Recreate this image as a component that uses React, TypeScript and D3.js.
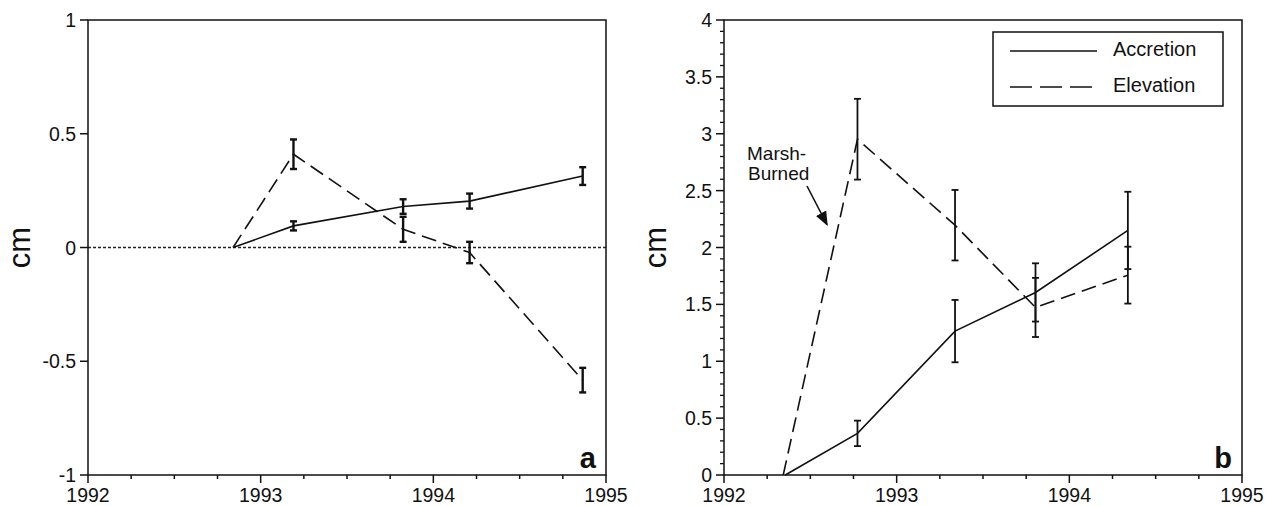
import React from "react";
import * as d3 from "d3";

// ---- Data ----
const leftYears = [1992.84, 1993.19, 1993.825, 1994.21, 1994.865];
const leftAccretion = [0, 0.095, 0.18, 0.204, 0.314];
const leftAccretionErr = [0, 0.02, 0.032, 0.033, 0.039];
const leftElevation = [0, 0.41, 0.08, -0.022, -0.583];
const leftElevationErr = [0, 0.065, 0.055, 0.047, 0.054];

const rightAccYears = [1992.355, 1992.773, 1993.338, 1993.804, 1994.339];
const rightAccretion = [0, 0.366, 1.265, 1.605, 2.15];
const rightAccretionErr = [0, 0.112, 0.274, 0.256, 0.34];
const rightElevYears = [1992.343, 1992.773, 1993.338, 1993.804, 1994.339];
const rightElevation = [0, 2.952, 2.196, 1.473, 1.757];
const rightElevationErr = [0, 0.355, 0.31, 0.26, 0.25];

const xTicks = [1992, 1993, 1994, 1995];
const leftYTicks = [-1, -0.5, 0, 0.5, 1];
const leftYLabels = ["-1", "-0.5", "0", "0.5", "1"];
const rightYTicks = [0, 0.5, 1, 1.5, 2, 2.5, 3, 3.5, 4];
const rightYLabels = ["0", "0.5", "1", "1.5", "2", "2.5", "3", "3.5", "4"];
const legendLabels = ["Accretion", "Elevation"];
const annotationLines = ["Marsh-", "Burned"];

const FONT = "'Liberation Sans', Arial, Helvetica, sans-serif";
const DASH = "15,7";

type PanelProps = {
  left: number;
  right: number;
  top: number;
  bottom: number;
  yDomain: [number, number];
  yTicks: number[];
  yLabels: string[];
  yMinorStep: number | null;
  series: { xs: number[]; ys: number[]; errs: number[]; dashed: boolean }[];
  errWidth: number;
  panelLabel: string;
  zeroLine: boolean;
  children?: (x: d3.ScaleLinear<number, number>, y: d3.ScaleLinear<number, number>) => React.ReactNode;
};

function Panel(p: PanelProps) {
  const x = d3.scaleLinear().domain([1992, 1995]).range([p.left, p.right]);
  const y = d3.scaleLinear().domain(p.yDomain).range([p.bottom, p.top]);
  const minorX = d3.range(1992, 1995.001, 0.25).filter((v) => !xTicks.some((t) => Math.abs(t - v) < 1e-6));
  const minorY: number[] = [];
  if (p.yMinorStep) {
    const n = Math.round((p.yDomain[1] - p.yDomain[0]) / p.yMinorStep);
    for (let i = 0; i <= n; i++) {
      const v = p.yDomain[0] + i * p.yMinorStep;
      if (!p.yTicks.some((t) => Math.abs(t - v) < 1e-6)) minorY.push(v);
    }
  }
  const line = d3
    .line<[number, number]>()
    .x((d) => x(d[0]))
    .y((d) => y(d[1]));
  return (
    <g>
      {p.zeroLine && (
        <line x1={p.left} x2={p.right} y1={y(0)} y2={y(0)} stroke="#222" strokeWidth={1.4} strokeDasharray="3,2" />
      )}
      {/* frame */}
      <rect x={p.left} y={p.top} width={p.right - p.left} height={p.bottom - p.top} fill="none" stroke="#111" strokeWidth={1.5} />
      {/* x ticks */}
      {xTicks.map((t) => (
        <g key={"xt" + t}>
          <line x1={x(t)} x2={x(t)} y1={p.bottom} y2={p.bottom + 8} stroke="#111" strokeWidth={1.5} />
          <text x={x(t)} y={p.bottom + 27} textAnchor="middle" fontFamily={FONT} fontSize={19.5} fill="#111">
            {t}
          </text>
        </g>
      ))}
      {minorX.map((t) => (
        <line key={"xm" + t} x1={x(t)} x2={x(t)} y1={p.bottom} y2={p.bottom + 4} stroke="#111" strokeWidth={1.5} />
      ))}
      {/* y ticks */}
      {p.yTicks.map((t, i) => (
        <g key={"yt" + t}>
          <line x1={p.left - 8} x2={p.left} y1={y(t)} y2={y(t)} stroke="#111" strokeWidth={1.5} />
          <text x={p.left - 12} y={y(t) + 7} textAnchor="end" fontFamily={FONT} fontSize={19.5} fill="#111">
            {p.yLabels[i]}
          </text>
        </g>
      ))}
      {minorY.map((t) => (
        <line key={"ym" + t} x1={p.left - 4} x2={p.left} y1={y(t)} y2={y(t)} stroke="#111" strokeWidth={1.3} />
      ))}
      {/* y axis title */}
      <text
        transform={`translate(${p.left - 58},${(p.top + p.bottom) / 2}) rotate(-90)`}
        textAnchor="middle"
        fontFamily={FONT}
        fontSize={31}
        fill="#111"
      >
        cm
      </text>
      {/* series */}
      {p.series.map((s, si) => {
        const pts: [number, number][] = s.xs.map((xv, i) => [xv, s.ys[i]]);
        return (
          <g key={"s" + si}>
            <path
              d={line(pts) || ""}
              fill="none"
              stroke="#111"
              strokeWidth={1.6}
              strokeDasharray={s.dashed ? DASH : undefined}
            />
            {pts.map((d, i) =>
              s.errs[i] > 0 ? (
                <g key={"e" + i}>
                  <line x1={x(d[0])} x2={x(d[0])} y1={y(d[1] - s.errs[i])} y2={y(d[1] + s.errs[i])} stroke="#111" strokeWidth={p.errWidth} />
                  <line x1={x(d[0]) - 3.5} x2={x(d[0]) + 3.5} y1={y(d[1] - s.errs[i])} y2={y(d[1] - s.errs[i])} stroke="#111" strokeWidth={p.errWidth} />
                  <line x1={x(d[0]) - 3.5} x2={x(d[0]) + 3.5} y1={y(d[1] + s.errs[i])} y2={y(d[1] + s.errs[i])} stroke="#111" strokeWidth={p.errWidth} />
                </g>
              ) : null
            )}
          </g>
        );
      })}
      <text x={p.right - 10} y={p.bottom - 7} textAnchor="end" fontFamily={FONT} fontSize={29} fontWeight="bold" fill="#111">
        {p.panelLabel}
      </text>
      {p.children && p.children(x, y)}
    </g>
  );
}

export default function App() {
  const top = 20;
  const bottom = 475;
  return (
    <svg width={1271} height={506} style={{ position: "absolute", left: 0, top: 0, background: "#fff" }}>
      <rect x={0} y={0} width={1271} height={506} fill="#fff" />
      <defs>
        <marker id="arrowhead" viewBox="0 0 10 10" refX={9} refY={5} markerWidth={9} markerHeight={9} orient="auto">
          <path d="M0,1 L10,5 L0,9 z" fill="#111" />
        </marker>
      </defs>
      <Panel
        left={88}
        right={606}
        top={top}
        bottom={bottom}
        yDomain={[-1, 1]}
        yTicks={leftYTicks}
        yLabels={leftYLabels}
        yMinorStep={null}
        errWidth={2.4}
        panelLabel="a"
        zeroLine={true}
        series={[
          { xs: leftYears, ys: leftAccretion, errs: leftAccretionErr, dashed: false },
          { xs: leftYears, ys: leftElevation, errs: leftElevationErr, dashed: true },
        ]}
      />
      <Panel
        left={724}
        right={1242}
        top={top}
        bottom={bottom}
        yDomain={[0, 4]}
        yTicks={rightYTicks}
        yLabels={rightYLabels}
        yMinorStep={0.1}
        errWidth={1.8}
        panelLabel="b"
        zeroLine={false}
        series={[
          { xs: rightAccYears, ys: rightAccretion, errs: rightAccretionErr, dashed: false },
          { xs: rightElevYears, ys: rightElevation, errs: rightElevationErr, dashed: true },
        ]}
      >
        {(x, y) => (
          <g>
            {/* legend */}
            <rect x={993} y={32} width={230} height={74} fill="#fff" stroke="#111" strokeWidth={1.5} />
            <line x1={1010} x2={1097} y1={51} y2={51} stroke="#111" strokeWidth={1.5} />
            <line x1={1010} x2={1097} y1={87} y2={87} stroke="#111" strokeWidth={1.5} strokeDasharray="22,8" />
            <text x={1113} y={56} fontFamily={FONT} fontSize={20} fill="#111">
              {legendLabels[0]}
            </text>
            <text x={1113} y={92} fontFamily={FONT} fontSize={20} fill="#111">
              {legendLabels[1]}
            </text>
            {/* annotation */}
            <text x={747} y={160} fontFamily={FONT} fontSize={19} fill="#111">
              {annotationLines[0]}
            </text>
            <text x={748} y={180} fontFamily={FONT} fontSize={19} fill="#111">
              {annotationLines[1]}
            </text>
            <line
              x1={807}
              y1={186}
              x2={x(1992.62) - 4}
              y2={y(2.2)}
              stroke="#111"
              strokeWidth={1.6}
              markerEnd="url(#arrowhead)"
            />
          </g>
        )}
      </Panel>
    </svg>
  );
}
